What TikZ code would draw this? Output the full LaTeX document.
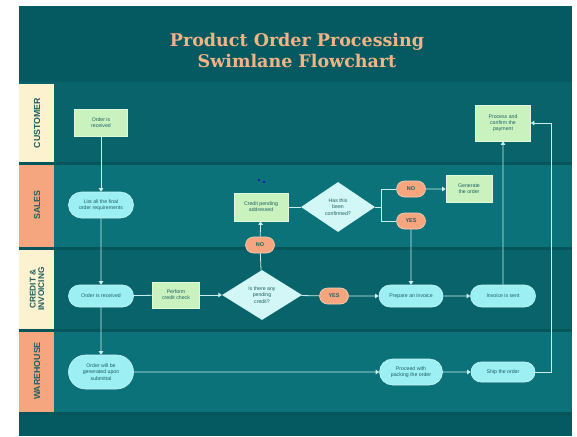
\documentclass[tikz,border=0pt]{standalone}
\usepackage{fontspec}
\setmainfont{Liberation Sans}
\newfontfamily\titlefont{DejaVu Serif}
\usetikzlibrary{shapes.geometric,shapes.misc,arrows.meta}

\definecolor{bandteal}{HTML}{045A60}
\definecolor{lanedark}{HTML}{08646A}
\definecolor{lanelight}{HTML}{0B7279}
\definecolor{lanerule}{HTML}{06555A}
\definecolor{cream}{HTML}{FCF2CF}
\definecolor{salmon}{HTML}{F6A67F}
\definecolor{titlesalmon}{HTML}{F2B487}
\definecolor{boxgreen}{HTML}{C9F2BE}
\definecolor{pillaqua}{HTML}{9CEFF2}
\definecolor{diamondaqua}{HTML}{D3F6F6}
\definecolor{inkteal}{HTML}{1E5F63}
\definecolor{linelight}{HTML}{CBEDEB}

\tikzset{
  task/.style={rectangle, fill=boxgreen, draw=boxgreen!55!white, line width=0.6pt,
    text=inkteal, font=\fontsize{5.2}{6.2}\selectfont, align=center, inner sep=1pt},
  pill/.style={rounded rectangle, fill=pillaqua, draw=pillaqua!55!white, line width=0.6pt,
    text=inkteal, font=\fontsize{5.2}{6.2}\selectfont, align=center, inner sep=1pt,
    minimum width=67pt, minimum height=22pt},
  decision/.style={diamond, fill=diamondaqua, text=inkteal,
    font=\fontsize{5.2}{6.2}\selectfont, align=center, inner sep=0pt},
  answer/.style={rounded rectangle, fill=salmon, draw=salmon!55!white, line width=0.6pt,
    text=inkteal, font=\fontsize{5.5}{6.5}\selectfont\bfseries, inner sep=1pt,
    minimum width=31pt, minimum height=16pt},
  lanelabel/.style={rotate=90, text=inkteal, font=\fontsize{8.8}{9}\selectfont\bfseries,
    align=center},
  link/.style={draw=linelight, line width=0.8pt},
  flow/.style={link, -{Triangle[width=4.5pt,length=3.5pt]}}
}

\begin{document}
\begin{tikzpicture}[x=1pt,y=-1pt]

\useasboundingbox[fill=white] (0,0) rectangle (577,436);

% Title band
\fill[bandteal] (19,6) rectangle (572,82);
\node[text=titlesalmon, font=\titlefont\fontsize{17.5}{21}\selectfont\bfseries, align=center]
  (title) at (297,50) {Product Order Processing\\Swimlane Flowchart};

% Lanes
\fill[lanedark] (19,82) rectangle (572,163);
\fill[lanelight] (19,163) rectangle (572,248);
\fill[lanedark] (19,248) rectangle (572,330);
\fill[lanelight] (19,330) rectangle (572,413);
\fill[bandteal] (19,413) rectangle (572,436);
\foreach \y in {163,248,330,413}
  \draw[lanerule, line width=3pt] (19,\y) -- (572,\y);

% Lane labels
\fill[cream] (19,84) rectangle (54,161.5);
\fill[salmon] (19,164.5) rectangle (54,246.5);
\fill[cream] (19,249.5) rectangle (54,328.5);
\fill[salmon] (19,331.5) rectangle (54,411.5);
\node[lanelabel] (customer) at (37,123) {CUSTOMER};
\node[lanelabel] (sales) at (37,205) {SALES};
\node[lanelabel, font=\fontsize{8.3}{8.3}\selectfont\bfseries] (credit) at (37,289) {CREDIT \&\\INVOICING};
\node[lanelabel] (warehouse) at (37,371) {WAREHOUSE};

% Customer
\node[task, minimum width=53pt, minimum height=27pt] (ordercust) at (101,123) {Order is\\received};
\node[task, minimum width=55pt, minimum height=36pt] (payment) at (503,123) {Process and\\confirm the\\payment};

% Sales
\node[pill, minimum height=26pt] (listreq) at (101,205) {List all the final\\order requirements};
\node[task, minimum width=54pt, minimum height=28pt] (addressed) at (261,207) {Credit pending\\addressed};
\node[decision, minimum width=74pt, minimum height=50pt] (confirmed) at (338,207) {Has this\\been\\confirmed?};
\node[answer] (nob) at (411,189) {NO};
\node[answer] (yesb) at (411,221) {YES};
\node[task, minimum width=46pt, minimum height=27pt] (generate) at (469,189) {Generate\\the order};
\node[answer] (noa) at (260,245) {NO};

% Credit & invoicing
\node[pill] (ordercredit) at (101,296) {Order is received};
\node[task, minimum width=47pt, minimum height=26pt] (check) at (176,295) {Perform\\credit check};
\node[decision, minimum width=80pt, minimum height=50pt] (pending) at (262,295) {Is there any\\pending\\credit?};
\node[answer] (yesa) at (334,296) {YES};
\node[pill, minimum width=66pt] (invoice) at (411,296) {Prepare an invoice};
\node[pill] (sent) at (503,296) {Invoice is sent};

% Warehouse
\node[pill, minimum height=34pt] (generated) at (101,372) {Order will be\\generated upon\\submittal};
\node[pill, minimum width=65pt, minimum height=26pt] (packing) at (411,372) {Proceed with\\packing the order};
\node[pill, minimum width=66pt, minimum height=20pt] (ship) at (503,372) {Ship the order};

% Connectors
\draw[flow] (ordercust) -- (listreq);
\draw[flow] (listreq) -- (ordercredit);
\draw[flow] (ordercredit) -- (generated);
\draw[link] (ordercredit) -- (check);
\draw[flow] (check) -- (pending);
\draw[link] (pending) -- (noa);
\draw[flow] (noa) -- (addressed);
\draw[link] (addressed) -- (confirmed);
\draw[link] (confirmed.east) -- ++(6,0) coordinate (split);
\draw[link] (split) |- (nob.west);
\draw[link] (split) |- (yesb.west);
\draw[flow] (nob) -- (generate);
\draw[flow] (yesb) -- (invoice);
\draw[link] (pending) -- (yesa);
\draw[flow] (yesa) -- (invoice);
\draw[flow] (invoice) -- (sent);
\draw[flow] (sent) -- (payment);
\draw[flow] (generated) -- (packing);
\draw[flow] (packing) -- (ship);
\draw[flow] (ship.east) -- ++(16,0) |- (payment.east);

% Stray marks
\fill[blue!80!black] (259,180) circle (1.2);
\fill[blue!80!black] (264,182) circle (1.2);

\end{tikzpicture}
\end{document}
